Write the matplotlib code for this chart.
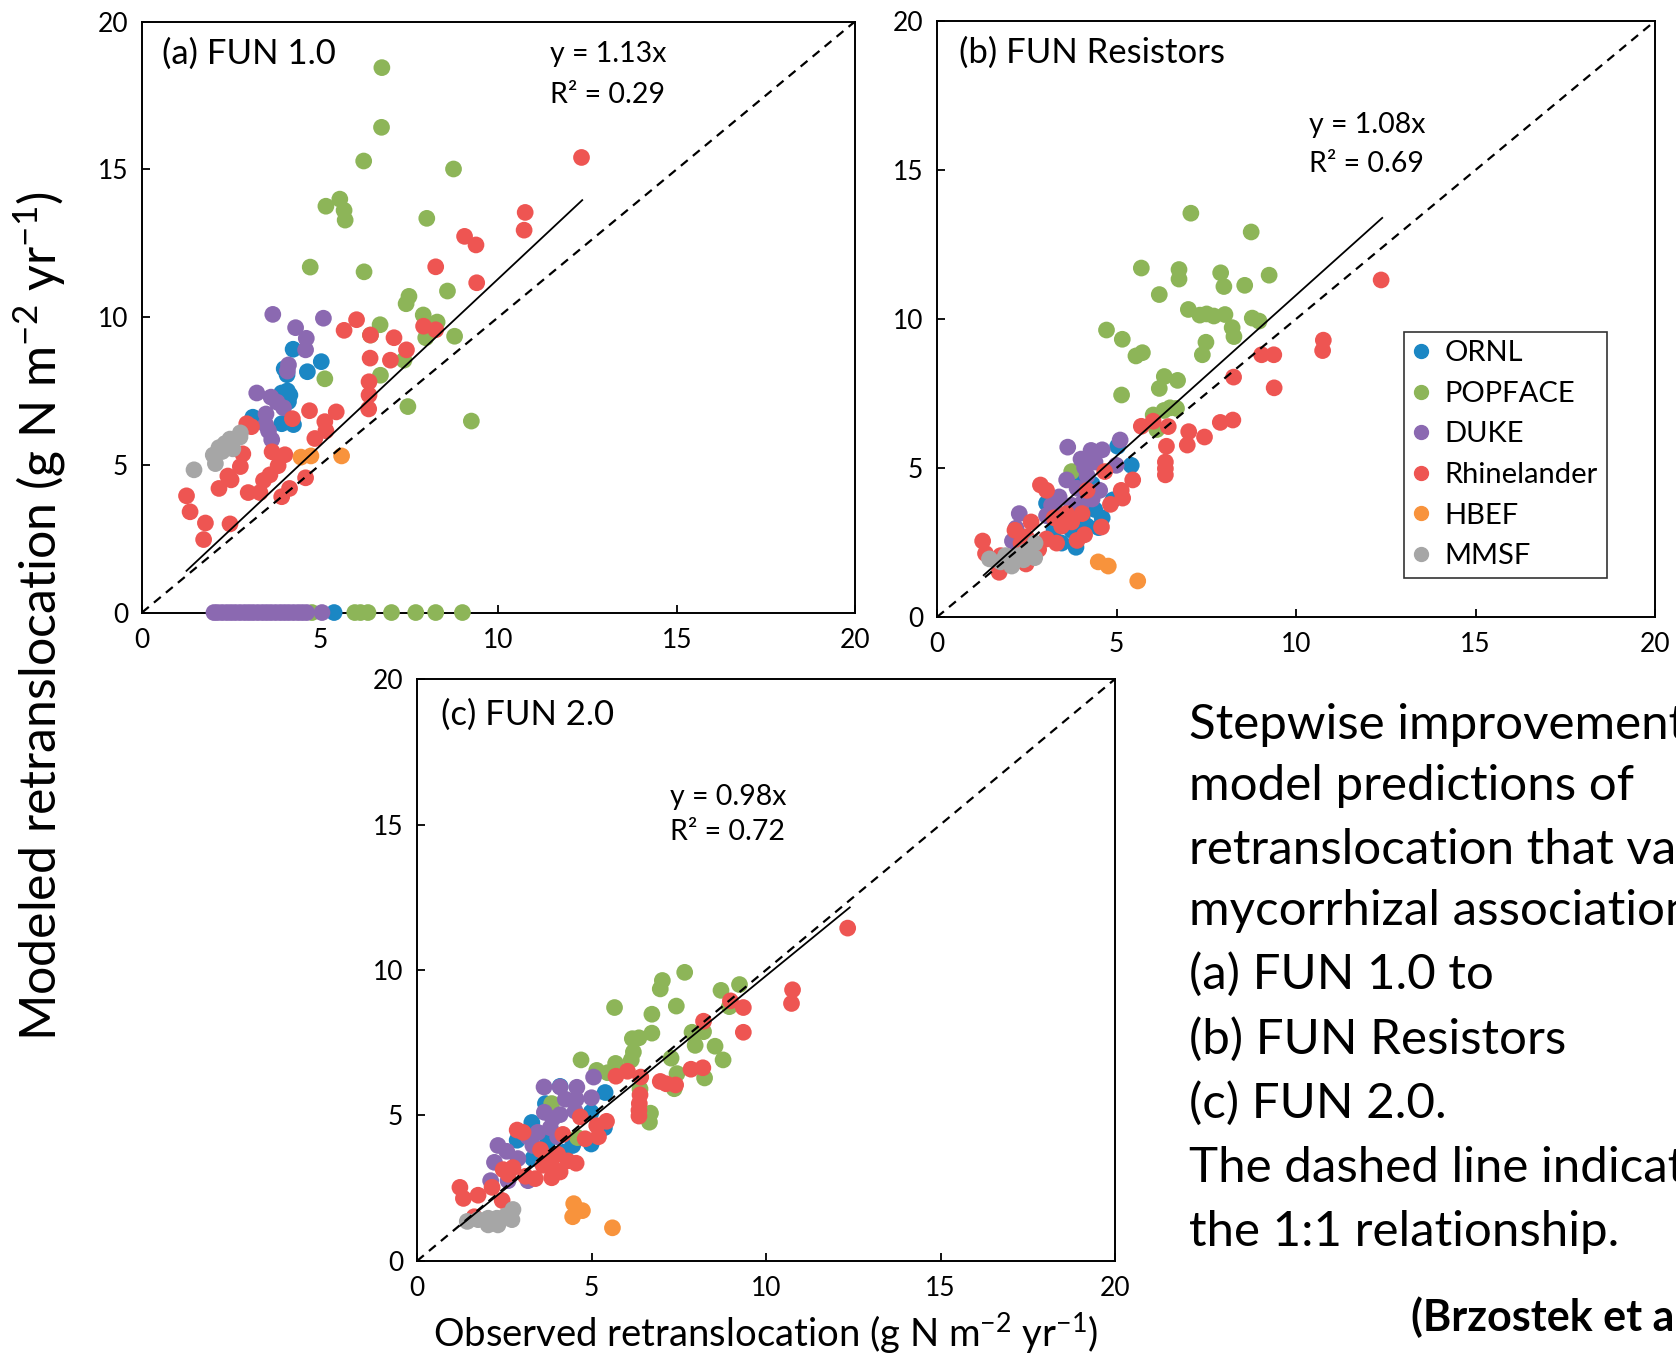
import matplotlib
matplotlib.use('Agg')
import matplotlib.pyplot as plt
import numpy as np

plt.rcParams['font.family'] = ['Lato', 'DejaVu Sans']
plt.rcParams['mathtext.fontset'] = 'custom'
plt.rcParams['mathtext.rm'] = 'Lato'
plt.rcParams['mathtext.it'] = 'Lato:italic'
plt.rcParams['mathtext.bf'] = 'Lato:bold'

TICK_SIZE = 19
NOTE_SIZE = 20.5
PANEL_SIZE = 25
LEGEND_SIZE = 21

sites = ['ORNL', 'POPFACE', 'DUKE', 'Rhinelander', 'HBEF', 'MMSF']
site_colors = ['#1b87c4', '#8db558', '#8b69b1', '#ee5552', '#f8933c', '#a6a6a6']

# ---- (a) FUN 1.0 ----
a_ornl_x = [4.24, 5.03, 4.64, 3.99, 4.07, 4.08, 3.92, 4.15, 3.99, 4.11, 3.11, 3.92, 4.25, 5.39]
a_ornl_y = [8.91, 8.49, 8.15, 8.25, 8.05, 7.50, 7.43, 7.36, 7.22, 7.14, 6.61, 6.39, 6.36, 0]
a_pop_x = [6.73, 6.72, 6.22, 8.74, 5.55, 5.16, 5.67, 5.70, 7.99, 4.72, 6.23, 8.57, 7.49, 7.41,
           7.89, 8.28, 6.68, 7.96, 8.77, 6.41, 7.35, 5.13, 6.69, 7.46, 9.24,
           4.77, 5.97, 6.13, 6.34, 7.00, 7.68, 8.24, 8.99]
a_pop_y = [18.44, 16.42, 15.28, 15.01, 13.99, 13.75, 13.61, 13.28, 13.34, 11.69, 11.53, 10.88,
           10.70, 10.45, 10.07, 9.83, 9.74, 9.30, 9.35, 9.39, 8.54, 7.91, 8.03, 6.97, 6.48,
           0, 0, 0, 0, 0, 0, 0, 0]
a_duke_x = [3.67, 5.09, 4.31, 4.61, 4.59, 4.11, 4.08, 3.22, 3.62, 3.79, 3.97, 3.48, 3.47, 3.55, 3.64,
            2.02, 2.12, 2.25, 2.38, 2.50, 2.62, 2.75, 2.88, 3.00, 3.12, 3.25, 3.38, 3.50, 3.62,
            3.75, 3.88, 4.00, 4.12, 4.25, 4.38, 4.50, 4.62, 5.05]
a_duke_y = [10.09, 9.96, 9.64, 9.28, 8.89, 8.38, 8.17, 7.43, 7.29, 7.12, 6.93, 6.72, 6.36, 6.15, 5.85,
            0, 0, 0, 0, 0, 0, 0, 0, 0, 0, 0, 0, 0, 0, 0, 0, 0, 0, 0, 0, 0, 0, 0]
a_rhin_x = [12.33, 10.75, 10.72, 9.05, 9.37, 8.24, 9.39, 6.02, 5.67, 6.41, 7.07, 7.90, 8.24, 7.42,
            6.40, 6.97, 6.37, 6.37, 6.36, 5.45, 4.70, 5.13, 5.16, 4.85, 4.22, 2.94, 3.07, 3.65,
            4.01, 3.82, 2.83, 2.76, 2.41, 2.50, 2.16, 3.41, 3.59, 3.31, 2.98, 4.14, 3.92, 4.59,
            1.25, 1.35, 1.78, 1.73, 2.47]
a_rhin_y = [15.40, 13.54, 12.94, 12.73, 12.44, 11.70, 11.16, 9.91, 9.55, 9.39, 9.30, 9.69, 9.57, 8.89,
            8.61, 8.54, 7.81, 7.36, 6.89, 6.79, 6.83, 6.46, 6.15, 5.89, 6.56, 6.39, 6.29, 5.44,
            5.34, 4.97, 5.37, 4.94, 4.62, 4.49, 4.20, 4.47, 4.66, 4.06, 4.06, 4.20, 3.92, 4.56,
            3.95, 3.41, 3.03, 2.47, 3.00]
a_hbef_x = [4.46, 4.74, 5.60]
a_hbef_y = [5.26, 5.30, 5.30]
a_mmsf_x = [1.46, 2.06, 2.00, 2.16, 2.33, 2.47, 2.75, 2.55, 2.76, 2.25]
a_mmsf_y = [4.83, 5.04, 5.33, 5.58, 5.72, 5.87, 5.94, 5.54, 6.08, 5.45]

# ---- (b) FUN Resistors ----
b_ornl_x = [5.03, 5.41, 4.32, 4.39, 4.04, 3.75, 3.47, 3.87, 3.26, 4.18, 4.60, 3.05, 4.50, 3.90, 4.90, 3.84]
b_ornl_y = [5.73, 5.09, 4.46, 3.61, 3.33, 2.91, 2.48, 2.34, 2.91, 3.05, 3.33, 3.82, 3.00, 2.60, 3.93, 4.60]
b_pop_x = [7.07, 8.75, 5.69, 6.74, 6.74, 7.90, 7.99, 9.25, 8.57, 6.19, 7.00, 7.32, 7.51, 7.71, 8.02,
           8.78, 8.97, 8.22, 8.27, 4.72, 5.16, 5.72, 5.54, 7.49, 7.39, 6.33, 6.70, 6.19, 5.14, 6.02,
           6.32, 6.67, 6.12, 3.75, 6.49]
b_pop_y = [13.55, 12.92, 11.71, 11.66, 11.34, 11.55, 11.09, 11.47, 11.13, 10.82, 10.32, 10.13, 10.17,
           10.10, 10.15, 10.03, 9.93, 9.71, 9.41, 9.63, 9.32, 8.87, 8.76, 9.22, 8.80, 8.07, 7.94,
           7.67, 7.45, 6.78, 6.93, 7.00, 6.29, 4.88, 7.02]
b_duke_x = [3.64, 4.29, 4.60, 5.10, 4.01, 4.99, 4.11, 4.18, 3.61, 4.53, 3.90, 3.40, 3.19, 3.05, 2.29,
            2.20, 2.10, 3.75, 4.04, 4.32, 3.30, 4.40]
b_duke_y = [5.70, 5.59, 5.61, 5.94, 5.30, 5.09, 5.02, 4.74, 4.60, 4.25, 4.32, 4.03, 3.75, 3.40, 3.47,
            2.98, 2.55, 3.75, 3.82, 3.96, 3.55, 5.20]
b_rhin_x = [12.37, 10.76, 10.74, 9.04, 9.38, 8.26, 9.39, 7.89, 8.24, 7.01, 7.45, 6.97, 5.69, 6.02,
            6.44, 6.39, 6.36, 6.36, 6.36, 5.45, 5.13, 5.17, 4.83, 4.67, 4.18, 4.58, 4.11, 3.90,
            2.88, 3.05, 1.27, 1.35, 1.73, 1.77, 2.48, 2.17, 2.62, 3.05, 3.33, 3.61, 4.04, 3.75,
            3.26, 2.34, 3.47, 2.83, 2.48]
b_rhin_y = [11.31, 9.29, 8.94, 8.80, 8.80, 8.05, 7.69, 6.53, 6.61, 6.22, 6.04, 5.77, 6.40, 6.57,
            6.39, 5.73, 5.20, 4.98, 4.77, 4.60, 4.25, 3.99, 3.78, 4.88, 4.25, 3.02, 2.76, 2.57,
            4.43, 4.25, 2.55, 2.13, 1.50, 2.06, 1.78, 2.91, 3.19, 2.62, 2.48, 3.47, 3.47, 3.19,
            3.33, 2.48, 3.05, 2.27, 2.69]
b_hbef_x = [4.49, 4.77, 5.59]
b_hbef_y = [1.85, 1.71, 1.21]
b_mmsf_x = [1.46, 2.08, 2.27, 1.91, 2.48, 2.73, 2.72, 2.41, 1.77]
b_mmsf_y = [1.95, 1.71, 2.06, 2.06, 2.20, 2.48, 1.99, 1.92, 1.85]

# ---- (c) FUN 2.0 ----
c_ornl_x = [4.10, 5.39, 4.99, 3.29, 2.87, 3.68, 4.99, 4.22, 5.37, 4.46, 3.32, 3.75]
c_ornl_y = [6.00, 5.79, 5.11, 4.76, 4.15, 5.41, 4.02, 3.74, 4.58, 3.97, 3.52, 4.12]
c_pop_x = [7.67, 7.03, 6.97, 9.24, 8.71, 8.95, 5.66, 6.73, 7.43, 6.73, 6.17, 6.36, 7.88, 8.21, 7.97,
           8.54, 8.77, 6.20, 6.14, 4.70, 5.69, 5.15, 5.46, 7.28, 7.45, 8.24, 7.37, 6.39, 6.69, 6.66,
           4.60, 3.86]
c_pop_y = [9.92, 9.64, 9.35, 9.50, 9.30, 8.74, 8.71, 8.48, 8.76, 7.83, 7.64, 7.67, 7.86, 7.88, 7.41,
           7.38, 6.91, 7.18, 6.91, 6.91, 6.79, 6.55, 6.47, 6.97, 6.44, 6.29, 5.92, 5.91, 5.08, 4.77,
           4.24, 5.41]
c_duke_x = [3.64, 4.10, 4.58, 4.25, 4.56, 5.06, 5.00, 3.65, 4.10, 4.53, 2.32, 2.57, 2.22, 2.61, 2.11,
            3.18, 3.46, 3.82, 4.03, 3.32, 3.18, 2.89, 3.89]
c_duke_y = [5.98, 5.98, 5.97, 5.56, 5.56, 6.32, 5.61, 5.11, 5.03, 5.15, 3.97, 3.77, 3.39, 2.76, 2.76,
            4.27, 4.42, 4.58, 4.27, 3.97, 2.76, 3.52, 4.89]
c_rhin_x = [12.34, 10.76, 10.73, 8.98, 9.35, 9.35, 8.21, 7.85, 8.19, 6.97, 7.14, 7.41, 5.70, 6.03,
            6.41, 6.39, 6.37, 6.36, 6.36, 5.43, 5.15, 5.20, 4.82, 4.68, 4.18, 4.56, 3.89, 4.10,
            3.86, 2.87, 3.04, 1.23, 1.33, 1.75, 2.15, 2.44, 1.64, 2.47, 2.75, 3.11, 3.39, 3.54,
            3.75, 4.03, 4.32, 2.61, 3.61]
c_rhin_y = [11.44, 9.32, 8.85, 8.94, 8.71, 7.86, 8.24, 6.59, 6.64, 6.17, 6.09, 6.05, 6.35, 6.52,
            6.32, 5.71, 5.41, 5.18, 4.98, 4.80, 4.65, 4.27, 4.20, 4.95, 4.35, 3.36, 3.21, 3.06,
            2.86, 4.50, 4.42, 2.53, 2.15, 2.26, 2.53, 2.08, 1.52, 3.14, 3.21, 2.91, 2.83, 3.82,
            3.52, 3.67, 3.44, 2.98, 3.29]
c_hbef_x = [4.49, 4.74, 4.46, 5.60]
c_hbef_y = [1.97, 1.73, 1.52, 1.14]
c_mmsf_x = [1.44, 2.04, 1.75, 2.29, 2.54, 2.75, 2.72, 2.32, 2.04]
c_mmsf_y = [1.36, 1.24, 1.42, 1.47, 1.55, 1.77, 1.42, 1.24, 1.47]

# fitted slopes and fit ranges
slopes = [1.13, 1.08, 0.98]
r2_values = [0.29, 0.69, 0.72]
fit_ranges = [(1.25, 12.35), (1.3, 12.4), (1.25, 12.4)]
panel_titles = ['(a) FUN 1.0', '(b) FUN Resistors', '(c) FUN 2.0']


def draw_panel(ax, xs_list, ys_list, idx, title_xy, eq_xy, eq_gap):
    for xs, ys, color in zip(xs_list, ys_list, site_colors):
        ax.scatter(xs, ys, s=145, color=color, edgecolors='none', zorder=3, clip_on=False)
    ax.plot([0, 20], [0, 20], color='black', lw=1.6, ls=(0, (4, 3)), zorder=4)
    fx = np.array(fit_ranges[idx])
    ax.plot(fx, slopes[idx] * fx, color='black', lw=1.3, zorder=4)

    ax.set_xlim(0, 20)
    ax.set_ylim(0, 20)
    ax.set_xticks([0, 5, 10, 15, 20])
    ax.set_yticks([0, 5, 10, 15, 20])
    ax.tick_params(direction='in', length=6, width=1.3, labelsize=TICK_SIZE,
                   top=False, right=False)
    ax.tick_params(axis='x', pad=11)
    ax.tick_params(axis='y', pad=10)
    for sp in ax.spines.values():
        sp.set_linewidth(1.4)

    ax.text(title_xy[0], title_xy[1], panel_titles[idx], transform=ax.transAxes,
            fontsize=PANEL_SIZE, ha='left', va='center')
    ax.text(eq_xy[0], eq_xy[1], f'y = {slopes[idx]:.2f}x', fontsize=NOTE_SIZE,
            ha='left', va='center')
    ax.text(eq_xy[0], eq_xy[1] - eq_gap, f'R\u00b2 = {r2_values[idx]:.2f}', fontsize=NOTE_SIZE,
            ha='left', va='center')


fig = plt.figure(figsize=(16.76, 13.54), dpi=100)

ax_a = fig.add_axes([0.0847, 0.5476, 0.4254, 0.4365])
ax_b = fig.add_axes([0.5591, 0.5443, 0.4284, 0.4402])
ax_c = fig.add_axes([0.2488, 0.0687, 0.4165, 0.4298])

draw_panel(ax_a,
           [a_ornl_x, a_pop_x, a_duke_x, a_rhin_x, a_hbef_x, a_mmsf_x],
           [a_ornl_y, a_pop_y, a_duke_y, a_rhin_y, a_hbef_y, a_mmsf_y],
           0, (0.028, 0.946), (11.45, 18.9), 1.37)
draw_panel(ax_b,
           [b_ornl_x, b_pop_x, b_duke_x, b_rhin_x, b_hbef_x, b_mmsf_x],
           [b_ornl_y, b_pop_y, b_duke_y, b_rhin_y, b_hbef_y, b_mmsf_y],
           1, (0.031, 0.946), (10.37, 16.5), 1.3)
draw_panel(ax_c,
           [c_ornl_x, c_pop_x, c_duke_x, c_rhin_x, c_hbef_x, c_mmsf_x],
           [c_ornl_y, c_pop_y, c_duke_y, c_rhin_y, c_hbef_y, c_mmsf_y],
           2, (0.035, 0.939), (7.26, 15.96), 1.22)

# legend only in panel (b)
handles = [plt.Line2D([], [], marker='o', ls='none', color=c, markersize=10) for c in site_colors]
leg = ax_b.legend(handles, sites, loc='upper left', bbox_to_anchor=(0.65, 0.479),
                  fontsize=LEGEND_SIZE, frameon=True, fancybox=False, edgecolor='black',
                  handlelength=0.6, handletextpad=0.5, labelspacing=0.5, borderpad=0.3,
                  borderaxespad=0)
leg.get_frame().set_linewidth(1.2)

fig.text(0.024, 0.545, 'Modeled retranslocation (g N m$^{-2}$ yr$^{-1}$)', rotation=90,
         ha='center', va='center', fontsize=36)
fig.text(0.457, 0.0155, 'Observed retranslocation (g N m$^{-2}$ yr$^{-1}$)',
         ha='center', va='center', fontsize=27.5)

# caption runs off the right edge of the picture, as in the source
caption_lines = ['Stepwise improvement', 'model predictions of', 'retranslocation that va',
                 'mycorrhizal association', '(a) FUN 1.0 to', '(b) FUN Resistors',
                 '(c) FUN 2.0.', 'The dashed line indicat', 'the 1:1 relationship.']
caption_y = [724.7, 785.6, 849.8, 910.7, 974.8, 1039.0, 1103.0, 1168.3, 1232.4]
for line, yy in zip(caption_lines, caption_y):
    fig.text(0.7094, 1 - yy / 1354, line, ha='left', va='center', fontsize=35.5)
fig.text(0.842, 1 - 1317 / 1354, '(Brzostek et a', ha='left', va='center',
         fontsize=31, fontweight='bold')

fig.savefig('out.png', dpi=100)
